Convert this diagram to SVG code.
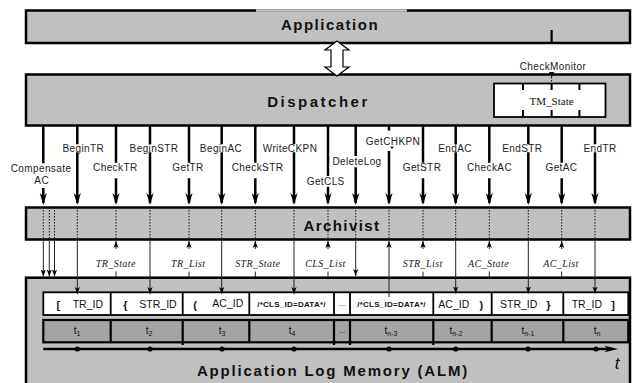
<svg xmlns="http://www.w3.org/2000/svg" width="632" height="383" viewBox="0 0 632 383">
<style>
.box{fill:#c0c0c0;stroke:#000;stroke-width:2.5}
.tt{font-family:"Liberation Sans",Arial,sans-serif;font-weight:bold;font-size:15px;letter-spacing:1.5px;text-anchor:middle;fill:#111}
.lb{font-family:"Liberation Sans",Arial,sans-serif;font-size:10px;letter-spacing:0.4px;text-anchor:middle;fill:#222}
.it{font-family:"Liberation Serif","Times New Roman",serif;font-style:italic;font-size:10px;letter-spacing:0.4px;text-anchor:middle;fill:#222}
.cell{font-family:"Liberation Sans",Arial,sans-serif;font-size:10.5px;fill:#111}
.br{font-family:"Liberation Sans",Arial,sans-serif;font-size:11px;font-weight:bold;fill:#111}
.cls{font-family:"Liberation Sans",Arial,sans-serif;font-size:8px;font-weight:bold;letter-spacing:0.25px;text-anchor:middle;fill:#111}
.ts{font-family:"Liberation Sans",Arial,sans-serif;font-size:10px;text-anchor:middle;fill:#111}
.thick{fill:none;stroke:#000;stroke-width:2.5}
.thin{fill:none;stroke:#222;stroke-width:1}
.dot{fill:none;stroke:#111;stroke-width:1;stroke-dasharray:1.5 1.5}
</style>
<defs>
<marker id="big" markerUnits="userSpaceOnUse" viewBox="0 0 12 10" markerWidth="12" markerHeight="10" refX="10" refY="5" orient="auto">
<path d="M0,1.4 L12,5 L0,8.6 L3.5,5 Z" fill="#000"/>
</marker>
<marker id="sm" markerUnits="userSpaceOnUse" viewBox="0 0 7 6" markerWidth="7" markerHeight="6" refX="7" refY="3" orient="auto">
<path d="M0,0.4 L7,3 L0,5.6 L1.8,3 Z" fill="#000"/>
</marker>
</defs>

<g id="application">
<rect class="box" x="26" y="10.5" width="604" height="32.5"/>
<line x1="256" y1="10.5" x2="407" y2="10.5" stroke="#c8c8c8" stroke-width="2.6"/>
<text class="tt" x="330" y="30">Application</text>
</g>

<g id="dispatcher">
<rect class="box" x="26" y="74.5" width="604" height="51"/>
<text class="tt" x="318.5" y="107" style="letter-spacing:2.5px">Dispatcher</text>
</g>

<g id="tm_state">
<rect x="494" y="83.5" width="111.5" height="33.5" fill="#fff" stroke="#000" stroke-width="1.8"/>
<path d="M523 83.5V90M551.6 83.5V90M579.4 83.5V90M523 110V117M551.6 110V117M579.4 110V117" stroke="#000" stroke-width="2" fill="none"/>
<text x="551.6" y="104.5" style="font-family:'Liberation Serif','Times New Roman',serif;font-size:11px;text-anchor:middle;fill:#111">TM_State</text>
</g>

<g id="archivist">
<rect class="box" x="26" y="207.5" width="604" height="32"/>
<text class="tt" x="342" y="230.5" style="letter-spacing:1.4px">Archivist</text>
</g>

<g id="alm">
<rect class="box" x="26" y="277.7" width="604" height="112"/>
<rect x="43.3" y="292.3" width="585" height="22.7" fill="#fff" stroke="#000" stroke-width="1.8"/>
<path d="M110.7 292.3V315M182.7 292.3V315M249.3 292.3V315M334 292.3V315M350 292.3V315M433.3 292.3V315M491.7 292.3V315M563.3 292.3V315" stroke="#000" stroke-width="1.8" fill="none"/>
<rect x="43.3" y="320" width="585" height="22.3" fill="#a4a4a4" stroke="#000" stroke-width="2.2"/>
<path d="M110.7 320V342.3M182.7 320V345M249.3 320V342.3M334 320V345M350 320V345M433.3 320V345M491.7 320V342.3M563.3 320V342.3" stroke="#000" stroke-width="2.2" fill="none"/>
<text class="br" x="56.5" y="308.5">[</text>
<text class="cell" x="72.7" y="308">TR_ID</text>
<text class="br" x="123.3" y="308.5">{</text>
<text class="cell" x="139.3" y="308">STR_ID</text>
<text class="br" x="193.3" y="308.5">(</text>
<text class="cell" x="212.3" y="307">AC_ID</text>
<text class="cls" x="291.5" y="307">/*CLS_ID=DATA*/</text>
<text class="ts" x="342" y="306" style="font-size:8px">...</text>
<text class="cls" x="391.5" y="307">/*CLS_ID=DATA*/</text>
<text class="cell" x="438.3" y="308">AC_ID</text>
<text class="br" x="479.5" y="308.5">)</text>
<text class="cell" x="500" y="308">STR_ID</text>
<text class="br" x="546.2" y="308.5">}</text>
<text class="cell" x="571.7" y="308">TR_ID</text>
<text class="br" x="611.2" y="308.5">]</text>
<text class="ts" x="77" y="334">t<tspan font-size="7" dy="2">1</tspan></text>
<text class="ts" x="149" y="334">t<tspan font-size="7" dy="2">2</tspan></text>
<text class="ts" x="222" y="334">t<tspan font-size="7" dy="2">3</tspan></text>
<text class="ts" x="292" y="334">t<tspan font-size="7" dy="2">4</tspan></text>
<text class="ts" x="342" y="333" style="font-size:8px">...</text>
<text class="ts" x="391" y="334">t<tspan font-size="7" dy="2">n-3</tspan></text>
<text class="ts" x="456" y="334">t<tspan font-size="7" dy="2">n-2</tspan></text>
<text class="ts" x="528" y="334">t<tspan font-size="7" dy="2">n-1</tspan></text>
<text class="ts" x="597" y="334">t<tspan font-size="7" dy="2">n</tspan></text>
<line x1="43.3" y1="349" x2="608" y2="349" stroke="#000" stroke-width="2.5"/>
<path d="M604.5 345.8 L618 349 L604.5 352.2 L608 349 Z" fill="#000"/>
<g fill="#000">
<circle cx="77.3" cy="349" r="2.6"/><circle cx="150" cy="349" r="2.6"/><circle cx="222" cy="349" r="2.6"/><circle cx="294" cy="349" r="2.6"/>
<circle cx="389" cy="349" r="2.6"/><circle cx="455.7" cy="349" r="2.6"/><circle cx="528" cy="349" r="2.6"/><circle cx="596" cy="349" r="2.6"/>
</g>
<text x="617" y="369" style="font-family:'Liberation Sans',Arial,sans-serif;font-style:italic;font-size:17px;text-anchor:middle;fill:#111">t</text>
<text class="tt" x="333" y="376" style="letter-spacing:1.8px">Application Log Memory (ALM)</text>
</g>

<g id="connectors">
<polygon points="337,41 349,50 343,50 343,67 349,67 337,76 325,67 331,67 331,50 325,50" fill="#fff" stroke="#000" stroke-width="1.2"/>
<line x1="551.6" y1="30" x2="551.6" y2="43" stroke="#000" stroke-width="2.2"/>
<text class="lb" x="553" y="69.5">CheckMonitor</text>
<polygon points="549,72 554.2,72 551.6,77.5" fill="#000"/>
<line class="dot" x1="551.6" y1="77" x2="551.6" y2="83.5"/>

<path class="thick" marker-end="url(#big)" d="M43.3 126V163.3M43.3 188V203"/>
<path class="thick" marker-end="url(#big)" d="M77.3 126V144.3M77.3 152.3V203"/>
<path class="thick" marker-end="url(#big)" d="M116 126V162.7M116 178.3V203"/>
<path class="thick" marker-end="url(#big)" d="M150 126V144.3M150 152.3V203"/>
<path class="thick" marker-end="url(#big)" d="M189 126V162.7M189 178.3V203"/>
<path class="thick" marker-end="url(#big)" d="M221.7 126V144.3M221.7 152.3V203"/>
<path class="thick" marker-end="url(#big)" d="M255.3 126V162.7M255.3 178.3V203"/>
<path class="thick" marker-end="url(#big)" d="M294 126V144.3M294 152.3V203"/>
<path class="thick" marker-end="url(#big)" d="M328 126V176M328 186.7V203"/>
<path class="thick" marker-end="url(#big)" d="M355.7 126V156M355.7 167.3V203"/>
<path class="thick" marker-end="url(#big)" d="M389 126V130.5M389 151V203"/>
<polygon points="390,146.7 394,146.7 392,148.9" fill="#000"/>
<path class="thick" marker-end="url(#big)" d="M423 126V162.7M423 178.3V203"/>
<path class="thick" marker-end="url(#big)" d="M455.7 126V144.3M455.7 152.3V203"/>
<path class="thick" marker-end="url(#big)" d="M489.3 126V162.7M489.3 178.3V203"/>
<path class="thick" marker-end="url(#big)" d="M528.3 126V144.3M528.3 152.3V203"/>
<path class="thick" marker-end="url(#big)" d="M561.7 126V162.7M561.7 178.3V203"/>
<path class="thick" marker-end="url(#big)" d="M595 126V144.3M595 152.3V203"/>

<text class="lb" x="83.3" y="152">BeginTR</text>
<text class="lb" x="154" y="152">BeginSTR</text>
<text class="lb" x="221" y="152">BeginAC</text>
<text class="lb" x="290" y="152">WriteCKPN</text>
<text class="lb" x="455" y="152">EndAC</text>
<text class="lb" x="522.3" y="152">EndSTR</text>
<text class="lb" x="600" y="152">EndTR</text>
<text class="lb" x="41" y="172">Compensate</text>
<text class="lb" x="41.7" y="184.3">AC</text>
<text class="lb" x="115.3" y="171.3">CheckTR</text>
<text class="lb" x="188" y="171.3">GetTR</text>
<text class="lb" x="257.5" y="171.3">CheckSTR</text>
<text class="lb" x="422" y="171.3">GetSTR</text>
<text class="lb" x="489.5" y="171.3">CheckAC</text>
<text class="lb" x="561.5" y="171.3">GetAC</text>
<text class="lb" x="325.7" y="185.3">GetCLS</text>
<text class="lb" x="357" y="165.3">DeleteLog</text>
<text class="lb" x="393" y="144.6">GetCHKPN</text>

<path class="dot" d="M43.3 207V239M49.3 207V239M54.5 207V239M77.3 207V239M116 207V239M150 207V239M189 207V239M221.7 207V239M255.3 207V239M294 207V239M328 207V239M355.7 207V239M389 207V239M423 207V239M455.7 207V239M489.3 207V239M528.3 207V239M561.7 207V239M595 207V239"/>

<path class="thin" marker-end="url(#sm)" d="M43.3 240.5V276.5"/>
<path class="thin" marker-end="url(#sm)" d="M49.3 240.5V276.5"/>
<path class="thin" marker-end="url(#sm)" d="M54.5 240.5V276.5"/>
<path class="thin" marker-end="url(#sm)" d="M77.3 240.5V294"/>
<path class="thin" marker-end="url(#sm)" d="M150 240.5V294"/>
<path class="thin" marker-end="url(#sm)" d="M221.7 240.5V294"/>
<path class="thin" marker-end="url(#sm)" d="M294 240.5V294"/>
<path class="thin" marker-end="url(#sm)" d="M355.7 240.5V276"/>
<path class="thin" marker-end="url(#sm)" d="M455.7 240.5V293.5"/>
<path class="thin" marker-end="url(#sm)" d="M528.3 240.5V293.5"/>
<path class="thin" marker-end="url(#sm)" d="M595 240.5V293.5"/>
<path class="thin" marker-end="url(#sm)" d="M389 297V241"/>
<path class="thin" marker-end="url(#sm)" d="M116 277V271.5M116 249V241"/>
<path class="thin" marker-end="url(#sm)" d="M189 277V271.5M189 249V241"/>
<path class="thin" marker-end="url(#sm)" d="M255.3 277V271.5M255.3 249V241"/>
<path class="thin" marker-end="url(#sm)" d="M328 277V271.5M328 249V241"/>
<path class="thin" marker-end="url(#sm)" d="M423 277V271.5M423 249V241"/>
<path class="thin" marker-end="url(#sm)" d="M489.3 277V271.5M489.3 249V241"/>
<path class="thin" marker-end="url(#sm)" d="M561.7 277V271.5M561.7 249V241"/>
<text class="it" x="115.8" y="266.5">TR_State</text>
<text class="it" x="188.3" y="266.5">TR_List</text>
<text class="it" x="257.8" y="266.5">STR_State</text>
<text class="it" x="325.5" y="266.5">CLS_List</text>
<text class="it" x="422.7" y="266.5">STR_List</text>
<text class="it" x="488.5" y="266.5">AC_State</text>
<text class="it" x="561" y="266.5">AC_List</text>
</g>
</svg>
